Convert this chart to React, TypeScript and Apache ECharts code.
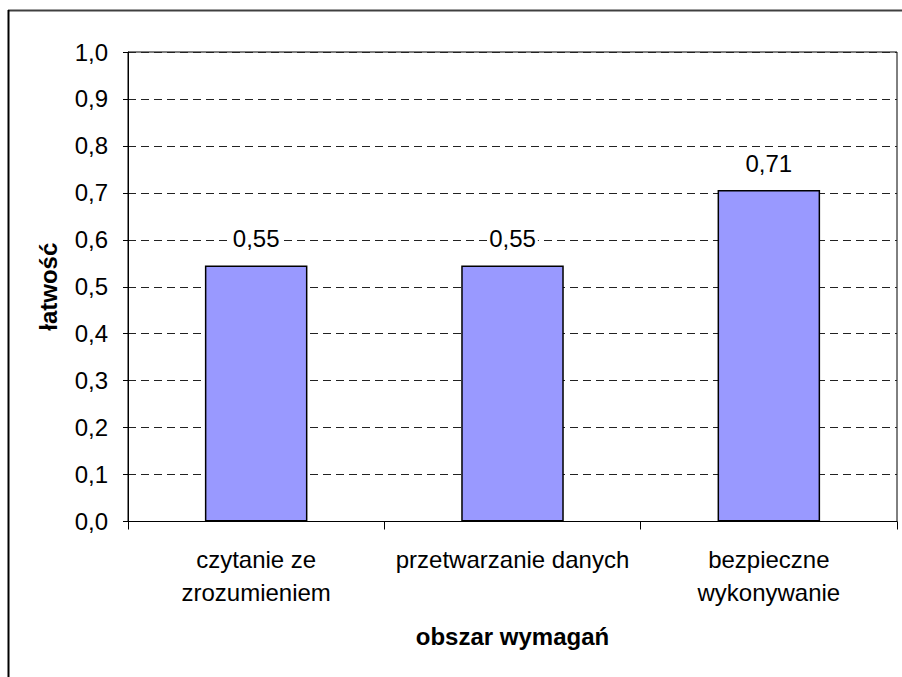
import React, { useEffect, useRef } from "react";
import * as echarts from "echarts";

const categories = ["czytanie ze\nzrozumieniem", "przetwarzanie danych", "bezpieczne\nwykonywanie"];
const values = [0.545, 0.545, 0.706];
const yTicks = [0, 0.1, 0.2, 0.3, 0.4, 0.5, 0.6, 0.7, 0.8, 0.9, 1.0];
const xTitle = "obszar wymagań";
const yTitle = "łatwość";

const FONT = "'Liberation Sans', Arial, sans-serif";
const FS = 24;

export default function App() {
  const ref = useRef<HTMLDivElement>(null);
  useEffect(() => {
    if (!ref.current) return;
    const chart = echarts.init(ref.current, undefined, { renderer: "svg" });
    chart.setOption({
      animation: false,
      backgroundColor: "#fff",
      textStyle: { fontFamily: FONT },
      grid: {
        left: 128,
        right: 5,
        top: 52,
        bottom: 155.5,
        show: true,
        borderColor: "#000",
        borderWidth: 1,
        backgroundColor: "transparent",
      },
      graphic: [
        { type: "line", shape: { x1: 8, y1: 10.5, x2: 902, y2: 10.5 }, style: { stroke: "#404040", lineWidth: 2 } },
        { type: "line", shape: { x1: 8.5, y1: 10, x2: 8.5, y2: 677 }, style: { stroke: "#000", lineWidth: 2 } },
      ],
      xAxis: {
        type: "category",
        data: categories,
        name: xTitle,
        nameLocation: "middle",
        nameGap: 103,
        nameTextStyle: { fontSize: FS, fontWeight: "bold", color: "#000", fontFamily: FONT },
        axisLine: { show: true, lineStyle: { color: "#000", width: 1 } },
        axisTick: { show: true, length: 8, lineStyle: { color: "#000" } },
        axisLabel: { fontSize: FS, color: "#000", lineHeight: 33, margin: 21, interval: 0, fontFamily: FONT },
        splitLine: { show: false },
      },
      yAxis: {
        type: "value",
        min: yTicks[0],
        max: yTicks[yTicks.length - 1],
        interval: 0.1,
        name: yTitle,
        nameLocation: "middle",
        nameGap: 68,
        nameTextStyle: { fontSize: FS, fontWeight: "bold", color: "#000", fontFamily: FONT },
        axisLine: { show: true, lineStyle: { color: "#000", width: 1 } },
        axisTick: { show: true, length: 5, lineStyle: { color: "#000" } },
        axisLabel: {
          fontSize: FS,
          color: "#000",
          margin: 20,
          fontFamily: FONT,
          formatter: (v: number) => v.toFixed(1).replace(".", ","),
        },
        splitLine: { show: true, lineStyle: { color: "#222", type: [8, 5], width: 1 } },
      },
      series: [
        {
          type: "bar",
          data: values,
          barWidth: "40%",
          itemStyle: { color: "#9999FF", borderColor: "#000", borderWidth: 1.5 },
          label: {
            show: true,
            position: "top",
            distance: 15,
            fontSize: FS,
            color: "#000",
            fontFamily: FONT,
            backgroundColor: "#fff",
            padding: [0, 2],
            formatter: (p: any) => (Math.round(p.value * 100) / 100).toFixed(2).replace(".", ","),
          },
        },
      ],
    });
    return () => chart.dispose();
  }, []);
  return (
    <div
      ref={ref}
      style={{ position: "fixed", left: 0, top: 0, width: 902, height: 677 }}
    />
  );
}
